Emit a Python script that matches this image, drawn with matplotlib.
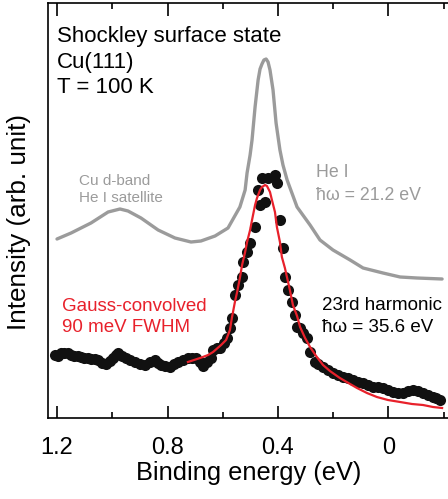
import numpy as np
import matplotlib
matplotlib.use("Agg")
import matplotlib.pyplot as plt
from matplotlib.ticker import MultipleLocator

plt.rcParams['font.family'] = ['Liberation Sans', 'DejaVu Sans']

# He I spectrum (grey line)
he_E = [1.200, 1.149, 1.077, 1.015, 0.972, 0.943, 0.896, 0.834, 0.773, 0.715,
        0.679, 0.628, 0.581, 0.538, 0.519, 0.512, 0.501, 0.494, 0.483, 0.472,
        0.465, 0.458, 0.451, 0.443, 0.436, 0.429, 0.418, 0.407, 0.393, 0.382,
        0.367, 0.331, 0.284, 0.248, 0.201, 0.139, 0.092, 0.020, -0.042, -0.103,
        -0.194]
he_I = [1.79, 1.85, 1.95, 2.06, 2.09, 2.07, 2.00, 1.88, 1.80, 1.76,
        1.77, 1.82, 1.90, 2.11, 2.28, 2.45, 2.63, 2.78, 3.11, 3.38,
        3.49, 3.54, 3.58, 3.59, 3.56, 3.48, 3.28, 2.95, 2.68, 2.53,
        2.38, 2.11, 1.93, 1.78, 1.68, 1.58, 1.50, 1.45, 1.41, 1.40,
        1.39]

# 23rd harmonic spectrum (black dots)
hh_E = [1.207, 1.196, 1.186, 1.175, 1.160, 1.149, 1.138, 1.124, 1.113, 1.102,
        1.088, 1.077, 1.062, 1.052, 1.037, 1.023, 1.008, 0.997, 0.986, 0.979,
        0.965, 0.950, 0.936, 0.918, 0.900, 0.882, 0.863, 0.845, 0.834, 0.824,
        0.809, 0.791, 0.776, 0.762, 0.744, 0.726, 0.711, 0.697, 0.682, 0.671,
        0.657, 0.643, 0.635, 0.621, 0.610, 0.595, 0.585, 0.574, 0.567, 0.556,
        0.545, 0.530, 0.527, 0.512, 0.501, 0.483, 0.472, 0.465, 0.458, 0.447,
        0.436, 0.411, 0.404, 0.393, 0.382, 0.375, 0.364, 0.349, 0.338, 0.331,
        0.320, 0.309, 0.295, 0.284, 0.266, 0.255, 0.237, 0.219, 0.201, 0.183,
        0.165, 0.146, 0.128, 0.110, 0.092, 0.074, 0.056, 0.038, 0.020, 0.002,
        -0.016, -0.034, -0.053, -0.071, -0.089, -0.107, -0.125, -0.143, -0.161,
        -0.172, -0.186]
hh_I = [0.63, 0.62, 0.65, 0.65, 0.65, 0.63, 0.62, 0.62, 0.61, 0.60,
        0.60, 0.59, 0.59, 0.58, 0.55, 0.54, 0.57, 0.60, 0.63, 0.65,
        0.62, 0.60, 0.58, 0.56, 0.54, 0.53, 0.56, 0.58, 0.55, 0.53,
        0.52, 0.51, 0.54, 0.56, 0.58, 0.60, 0.60, 0.60, 0.56, 0.52,
        0.56, 0.60, 0.68, 0.70, 0.70, 0.75, 0.80, 0.90, 1.00, 1.23,
        1.33, 1.41, 1.56, 1.66, 1.75, 1.91, 2.28, 2.13, 2.40, 2.16,
        2.40, 2.43, 2.35, 1.98, 1.70, 1.41, 1.28, 1.16, 1.03, 0.91,
        0.90, 0.85, 0.80, 0.66, 0.56, 0.54, 0.51, 0.48, 0.45, 0.43,
        0.41, 0.40, 0.38, 0.36, 0.35, 0.33, 0.31, 0.31, 0.30, 0.28,
        0.26, 0.25, 0.25, 0.27, 0.28, 0.27, 0.25, 0.23, 0.21,
        0.20, 0.18]

# fit curve (red)
fit_E = [0.726, 0.682, 0.653, 0.635, 0.606, 0.588, 0.574, 0.567, 0.556, 0.548,
         0.538, 0.530, 0.519, 0.512, 0.501, 0.494, 0.483, 0.476, 0.465, 0.458,
         0.447, 0.440, 0.429, 0.422, 0.411, 0.404, 0.393, 0.386, 0.375, 0.357,
         0.346, 0.331, 0.320, 0.302, 0.284, 0.262, 0.237, 0.212, 0.176, 0.139,
         0.114, 0.078, 0.042, 0.002, -0.042, -0.085, -0.125, -0.161, -0.194]
fit_I = [0.56, 0.60, 0.63, 0.66, 0.73, 0.78, 0.88, 1.00, 1.16, 1.26,
         1.40, 1.53, 1.66, 1.76, 1.88, 1.98, 2.13, 2.20, 2.28, 2.31,
         2.33, 2.32, 2.26, 2.18, 2.06, 1.91, 1.76, 1.61, 1.50, 1.28,
         1.13, 1.02, 0.91, 0.80, 0.71, 0.62, 0.53, 0.47, 0.40, 0.34,
         0.30, 0.25, 0.21, 0.18, 0.16, 0.14, 0.13, 0.11, 0.10]

grey = '#9b9b9b'
red = '#e8212b'

W, H = 448, 499
fig = plt.figure(figsize=(W / 100, H / 100), dpi=100)
ax = fig.add_axes([48 / W, 1 - 418 / H, 400 / W, 415 / H])

ax.plot(he_E, he_I, color=grey, lw=2.4, solid_capstyle='round',
        solid_joinstyle='round')
ax.plot(hh_E, hh_I, 'o', color='#111111', ms=8, mec='none')
ax.plot(fit_E, fit_I, color=red, lw=1.6)

ax.set_xlim(1.2326, -0.2154)
ax.set_ylim(0, 4.15)
ax.set_yticks([])
ax.xaxis.set_minor_locator(MultipleLocator(0.2))
ax.set_xticks([1.2, 0.8, 0.4, 0.0])
ax.set_xticklabels(['1.2', '0.8', '0.4', '0'])
ax.tick_params(axis='x', which='both', direction='in', top=True, bottom=True,
               width=1.2, labelsize=17, pad=14)
ax.tick_params(axis='x', which='major', length=9)
ax.tick_params(axis='x', which='minor', length=4.5)
for s in ['left', 'bottom', 'top']:
    ax.spines[s].set_linewidth(1.2)
ax.spines['right'].set_visible(False)

fig.text(249 / W, 1 - 480 / H, 'Binding energy (eV)', fontsize=18.3,
         ha='center', va='baseline')
fig.text(19 / W, 1 - 222 / H, 'Intensity (arb. unit)', rotation=90,
         fontsize=18.8, ha='center', va='center')


def label(x, y, s, size, color):
    fig.text(x / W, 1 - y / H, s, fontsize=size, color=color,
             ha='left', va='baseline')


label(57, 42, 'Shockley surface state', 16, 'black')
label(57, 68, 'Cu(111)', 16, 'black')
label(57, 93, 'T = 100 K', 16, 'black')
label(79, 185, 'Cu d-band', 11, grey)
label(79, 202, 'He I satellite', 11, grey)
label(316, 177, 'He I', 12.8, grey)
label(316, 200, 'ħω = 21.2 eV', 12.8, grey)
label(62, 311, 'Gauss-convolved', 13.5, red)
label(62, 332, '90 meV FWHM', 13.5, red)
label(322, 310, '23rd harmonic', 13.5, 'black')
label(322, 332, 'ħω = 35.6 eV', 13.5, 'black')

fig.savefig('out.png', dpi=100)
